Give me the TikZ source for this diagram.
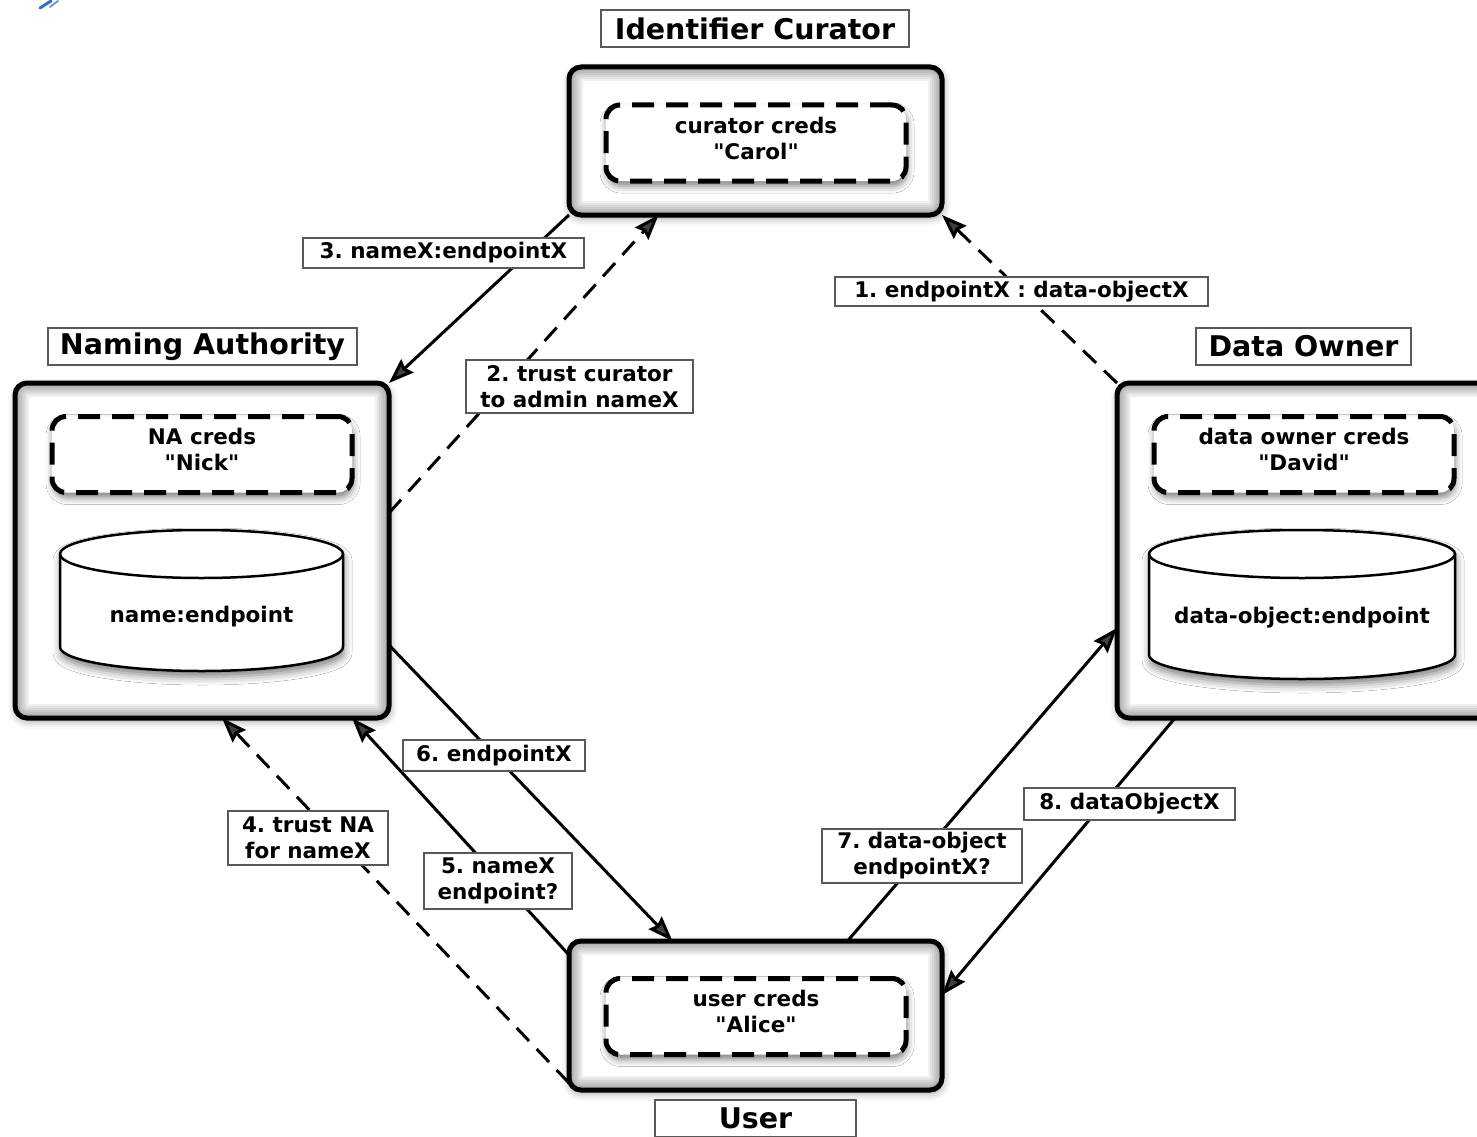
\documentclass[tikz,border=0pt]{standalone}
\usepackage{fontspec}
\setmainfont{DejaVu Sans}[Ligatures=TeXOff]
\usetikzlibrary{arrows.meta,calc,shadows.blur}

\definecolor{logoblue}{HTML}{3A6CC4}
\newcommand\hdfont{\fontsize{28.5}{32}\selectfont\bfseries\frenchspacing}
\newcommand\lblfont{\fontsize{21.5}{26}\selectfont\bfseries\frenchspacing}

\tikzset{
  every node/.style={outer sep=0pt},
  host/.style={draw, line width=5pt, rounded corners=12pt, fill=white,
    blur shadow={shadow xshift=1pt, shadow yshift=-3pt, shadow blur radius=8pt, shadow opacity=40},
    path picture={\foreach \w in {4,8,...,28}{
      \draw[black, opacity=0.055, line width=\w pt, rounded corners=12pt]
        (path picture bounding box.south west) rectangle (path picture bounding box.north east);}}},
  creds/.style={draw, line width=5pt, dash pattern=on 22pt off 12pt, rounded corners=14pt,
    fill=white, align=center, font=\lblfont, minimum width=300pt, minimum height=76pt,
    text depth=10pt,
    blur shadow={shadow xshift=1pt, shadow yshift=-5pt, shadow blur radius=7pt, shadow opacity=50}},
  drum/.style={draw, line width=2.5pt, fill=white,
    blur shadow={shadow xshift=1pt, shadow yshift=-6pt, shadow blur radius=8pt, shadow opacity=50}},
  drumrim/.style={draw, line width=2.5pt},
  drumtext/.style={font=\lblfont},
  heading/.style={draw=black!65, line width=1.5pt, fill=white, font=\hdfont, inner sep=0pt,
    minimum height=37pt},
  tag/.style={draw=black!65, line width=1.5pt, fill=white, align=center, font=\lblfont, inner sep=0pt},
  msg/.style={line width=3pt, -{Stealth[length=25pt, width=18pt, inset=3pt]}},
  trust/.style={msg, dash pattern=on 18pt off 11pt},
}

\begin{document}
\begin{tikzpicture}[x=1pt, y=-1pt]
\useasboundingbox (0,0) rectangle (1477,1137);

% corner mark
\draw[logoblue, line width=3pt, line cap=round] (40,8) -- (51,1);
\draw[logoblue!70, line width=2pt, line cap=round] (50,7) -- (58,1);

% hosts
\node[host, minimum width=373pt, minimum height=148pt] (cur) at (755.5,141) {};
\node[host, minimum width=374pt, minimum height=335pt] (na) at (202,550.5) {};
\node[host, minimum width=400pt, minimum height=335pt] (do) at (1317,550.5) {};
\node[host, minimum width=373pt, minimum height=149pt] (user) at (755.5,1015.5) {};

% credentials
\node[creds] (curcreds) at (756,143) {curator creds\\"Carol"};
\node[creds] (nacreds) at (202,454.5) {NA creds\\"Nick"};
\node[creds] (docreds) at (1304,454.5) {data owner creds\\"David"};
\node[creds] (usercreds) at (756,1016.5) {user creds\\"Alice"};

% name store
\path[drum] (60,554) -- (60,647) arc[start angle=180, end angle=360, x radius=141.5pt, y radius=24pt]
  -- (343,554) arc[start angle=0, end angle=180, x radius=141.5pt, y radius=24pt] -- cycle;
\draw[drumrim] (60,554) arc[start angle=180, end angle=360, x radius=141.5pt, y radius=24pt];
\node[drumtext] (nadb) at (201.5,617) {name:endpoint};

% data-object store
\path[drum] (1149,554) -- (1149,655) arc[start angle=180, end angle=360, x radius=153pt, y radius=24pt]
  -- (1455,554) arc[start angle=0, end angle=180, x radius=153pt, y radius=24pt] -- cycle;
\draw[drumrim] (1149,554) arc[start angle=180, end angle=360, x radius=153pt, y radius=24pt];
\node[drumtext] (dodb) at (1302,618) {data-object:endpoint};

% headings
\node[heading, minimum width=308pt] (curhead) at (755,28.5) {Identifier Curator};
\node[heading, minimum width=309pt] (nahead) at (202.5,346.5) {Naming Authority};
\node[heading, minimum width=215pt] (dohead) at (1303.5,346.5) {Data Owner};
\node[heading, minimum width=201pt] (userhead) at (755.5,1118.5) {User};

% messages
\draw[trust] (do.north west) -- (cur.south east);
\draw[trust] ([yshift=-130pt]na.north east) -- ([xshift=-97pt]cur.south);
\draw[msg] (cur.south west) -- (na.north east);
\draw[trust] ([yshift=7pt]user.south west) -- ([xshift=20pt]na.south);
\draw[msg] ([yshift=-14pt]user.north west) -- ([xshift=150pt]na.south);
\draw[msg] ([yshift=-262pt]na.north east) -- ([xshift=-83pt]user.north);
\draw[msg] ([xshift=92pt]user.north) -- ([yshift=-245pt]do.north west);
\draw[msg] ([xshift=58pt]do.south west) -- ([yshift=-54pt]user.north east);

% message tags
\node[tag, minimum width=373pt, minimum height=29pt] (t1) at (1021.5,291.5) {1. endpointX : data-objectX};
\node[tag, minimum width=227pt, minimum height=53pt] (t2) at (579.5,386.5) {2. trust curator\\to admin nameX};
\node[tag, minimum width=281pt, minimum height=30pt] (t3) at (443.5,253) {3. nameX:endpointX};
\node[tag, minimum width=160pt, minimum height=54pt] (t4) at (308,838) {4. trust NA\\for nameX};
\node[tag, minimum width=148pt, minimum height=56pt] (t5) at (498,881) {5. nameX\\endpoint?};
\node[tag, minimum width=182pt, minimum height=31pt] (t6) at (494,755.5) {6. endpointX};
\node[tag, minimum width=200pt, minimum height=54pt] (t7) at (922,856) {7. data-object\\endpointX?};
\node[tag, minimum width=211pt, minimum height=32pt] (t8) at (1129.5,804) {8. dataObjectX};
\end{tikzpicture}
\end{document}
